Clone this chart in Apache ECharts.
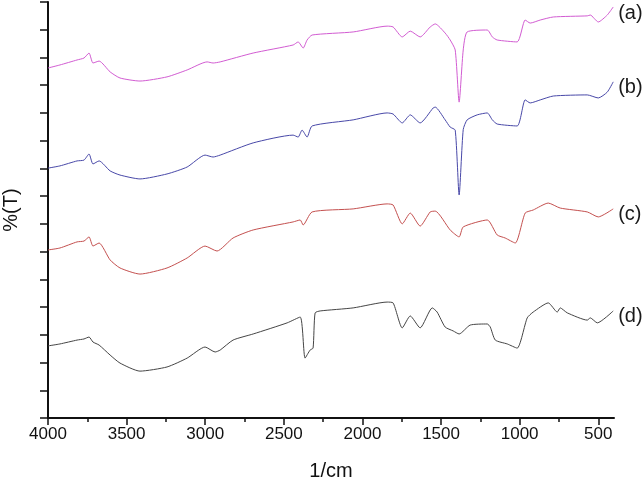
<!DOCTYPE html>
<html><head><meta charset="utf-8">
<script src="https://cdn.jsdelivr.net/npm/echarts@6/dist/echarts.min.js"></script>
<style>html,body{margin:0;padding:0;background:#fff}#c{width:644px;height:479px}</style>
</head><body><div id="c"></div>
<script>
// wavenumber (1/cm), transmittance (arbitrary, offset-stacked)
const seriesA = [[4000,12.62],[3924,12.73],[3815,12.91],[3771,12.98],[3739,13.16],[3714,12.80],[3675,12.87],[3605,12.48],[3542,12.26],[3415,12.15],[3243,12.30],[3115,12.55],[2988,12.84],[2950,12.80],[2905,12.84],[2695,13.16],[2441,13.45],[2409,13.56],[2377,13.34],[2352,13.63],[2320,13.81],[2059,13.92],[1843,14.13],[1805,14.10],[1747,13.74],[1696,13.95],[1633,13.74],[1569,14.10],[1537,14.21],[1474,13.88],[1442,13.63],[1410,13.27],[1385,11.39],[1359,13.27],[1334,13.92],[1206,13.99],[1174,13.74],[1143,13.63],[1016,13.56],[965,14.35],[933,14.24],[869,14.35],[786,14.46],[570,14.50],[551,14.53],[500,14.28],[443,14.53],[405,14.82]];
const seriesB = [[4000,9.01],[3924,9.09],[3815,9.27],[3771,9.30],[3739,9.52],[3714,9.16],[3675,9.27],[3605,8.91],[3542,8.76],[3415,8.62],[3243,8.80],[3115,9.05],[3001,9.48],[2950,9.41],[2905,9.48],[2695,9.92],[2441,10.20],[2409,10.13],[2384,10.38],[2352,10.13],[2320,10.53],[2059,10.75],[1843,11.00],[1805,10.96],[1747,10.64],[1696,10.93],[1633,10.64],[1550,11.18],[1537,11.21],[1474,10.75],[1442,10.49],[1410,10.38],[1385,8.04],[1359,10.40],[1334,10.75],[1270,10.93],[1206,11.00],[1174,10.75],[1143,10.60],[1016,10.53],[965,11.47],[933,11.36],[869,11.47],[786,11.61],[570,11.65],[500,11.54],[443,11.75],[405,12.12]];
const seriesC = [[4000,6.06],[3924,6.13],[3815,6.35],[3771,6.38],[3739,6.53],[3714,6.20],[3675,6.31],[3605,5.70],[3542,5.41],[3415,5.19],[3243,5.41],[3115,5.77],[3001,6.20],[2925,6.02],[2823,6.49],[2695,6.78],[2441,7.07],[2396,7.14],[2377,6.96],[2320,7.43],[2059,7.54],[1843,7.72],[1805,7.68],[1747,7.00],[1696,7.39],[1633,6.92],[1569,7.43],[1537,7.46],[1442,6.78],[1385,6.53],[1359,6.89],[1206,7.14],[1143,6.60],[1092,6.49],[1028,6.31],[965,7.39],[914,7.50],[818,7.75],[742,7.57],[570,7.43],[500,7.25],[405,7.54]];
const seriesD = [[4000,2.60],[3924,2.67],[3815,2.81],[3771,2.85],[3739,2.92],[3714,2.74],[3675,2.63],[3605,2.27],[3542,1.98],[3415,1.69],[3243,1.84],[3115,2.16],[3001,2.56],[2937,2.38],[2905,2.45],[2823,2.81],[2695,3.03],[2479,3.43],[2396,3.64],[2365,2.16],[2333,2.45],[2314,2.52],[2301,3.79],[2269,3.86],[2059,3.97],[1843,4.18],[1805,4.15],[1747,3.25],[1696,3.68],[1633,3.25],[1556,3.97],[1525,3.82],[1474,3.28],[1423,3.14],[1385,3.03],[1315,3.35],[1206,3.39],[1187,3.28],[1155,2.81],[1079,2.67],[1016,2.52],[952,3.61],[914,3.82],[818,4.15],[761,3.82],[742,3.97],[697,3.79],[570,3.53],[551,3.61],[506,3.43],[405,3.86]];
const seriesNames = ['(a)','(b)','(c)','(d)'];
const majorTicks = [4000,3500,3000,2500,2000,1500,1000,500];
const minorTicks = [3750,3250,2750,2250,1750,1250,750];
const colors = ['#d25cd2','#4848a8','#c4504f','#454545'];

const chart = echarts.init(document.getElementById('c'), null, {renderer:'canvas'});
const font = 'Liberation Sans, Arial, sans-serif';
const mk = (name, data, color) => ({
  type:'line', name, data, showSymbol:false, symbol:'none', animation:false, smooth:0.2,
  lineStyle:{color, width:1}, itemStyle:{color},
  endLabel:{show:true, formatter:name, color:'#1a1a1a', fontSize:20, fontFamily:font, distance:0, align:'left', offset:[5,6]}
});
chart.setOption({
  backgroundColor:'#fff',
  animation:false,
  grid:{left:48, right:30, top:2, bottom:61, containLabel:false, outerBoundsMode:'none'},
  xAxis:[{
    type:'value', inverse:true, min:400, max:4000,
    name:'1/cm', nameLocation:'middle', nameGap:43,
    nameTextStyle:{fontSize:20, color:'#111', fontFamily:font},
    axisLine:{show:true, onZero:false, lineStyle:{color:'#111', width:2}},
    axisTick:{show:true, inside:false, length:7, lineStyle:{color:'#111', width:1.5}, customValues:majorTicks},
    axisLabel:{show:true, fontSize:17, color:'#111', fontFamily:font, margin:8, customValues:majorTicks, formatter:v=>String(v)},
    splitLine:{show:false}
  },{
    type:'value', inverse:true, min:400, max:4000, position:'bottom',
    axisLine:{show:false},
    axisTick:{show:true, inside:false, length:4, lineStyle:{color:'#111', width:1.5}, customValues:minorTicks},
    axisLabel:{show:false}, splitLine:{show:false}
  }],
  yAxis:{
    type:'value', min:0, max:15, interval:1,
    name:'%(T)', nameLocation:'middle', nameGap:27, nameRotate:90,
    nameTextStyle:{fontSize:20, color:'#111', fontFamily:font},
    axisLine:{show:true, onZero:false, lineStyle:{color:'#111', width:2}},
    axisTick:{show:true, inside:false, length:8, lineStyle:{color:'#111', width:1.5}},
    axisLabel:{show:false}, splitLine:{show:false}
  },
  series:[
    mk(seriesNames[0], seriesA, colors[0]),
    mk(seriesNames[1], seriesB, colors[1]),
    mk(seriesNames[2], seriesC, colors[2]),
    mk(seriesNames[3], seriesD, colors[3])
  ]
});
</script></body></html>
